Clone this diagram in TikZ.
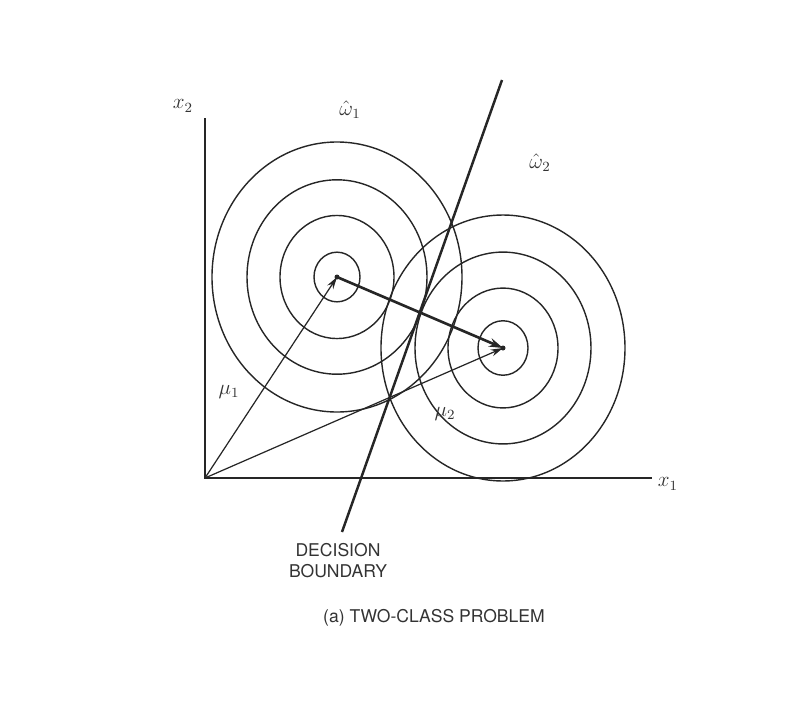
\documentclass[tikz,border=0pt]{standalone}
\usepackage{fontspec}
\setsansfont{TeX Gyre Heros}
\usetikzlibrary{arrows.meta}
\begin{document}
\begin{tikzpicture}[x=0.02cm,y=-0.02cm,
  ink/.style={draw=black!85},
  ring/.style={ink,line width=0.8pt},
  axis/.style={ink,line width=1.1pt},
  vec/.style={ink,line width=0.7pt,-{Stealth[length=7pt,width=4pt]}},
  lbl/.style={font=\large,text=black!80,inner sep=1pt},
  captxt/.style={font=\sffamily\normalsize,text=black!80,align=center,inner sep=1pt}]
\useasboundingbox (0,0) rectangle (809,707);
\coordinate (o) at (205,478);
\coordinate (ytop) at (205,118);
\coordinate (xend) at (652,478);
\coordinate (c1) at (337,277);
\coordinate (c2) at (503,348);
\coordinate (db1) at (342,532);
\coordinate (db2) at (502,80);
% axes
\draw[axis] (ytop) -- (o) -- (xend);
% rings class 1
\foreach \r in {23,57,90,125}
  \draw[ring] (c1) ellipse [x radius=\r, y radius={1.08*\r}];
% rings class 2
\foreach \r in {25,55,88,122}
  \draw[ring] (c2) ellipse [x radius=\r, y radius={1.09*\r}];
% decision boundary
\draw[ink,line width=1.4pt] (db1) -- (db2);
% mean vectors
\draw[vec] (o) -- (c1);
\draw[vec] (o) -- (c2);
\draw[ink,line width=1.5pt,-{Stealth[length=8pt,width=5pt]}] (c1) -- (c2);
\fill[black!85] (c1) circle [radius=2.5];
\fill[black!85] (c2) circle [radius=2.5];
% labels
\node[lbl] (lx2) at (183,106) {$x_2$};
\node[lbl] (lx1) at (668,484) {$x_1$};
\node[lbl] (lw1) at (350,110) {$\hat{\omega}_1$};
\node[lbl] (lw2) at (540,163) {$\hat{\omega}_2$};
\node[lbl] (lm1) at (229,392) {$\mu_1$};
\node[lbl] (lm2) at (445,414) {$\mu_2$};
\node[captxt] (dbl) at (338,561) {DECISION\\BOUNDARY};
\node[captxt] (capt) at (434,618) {(a) TWO-CLASS PROBLEM};
\end{tikzpicture}
\end{document}
